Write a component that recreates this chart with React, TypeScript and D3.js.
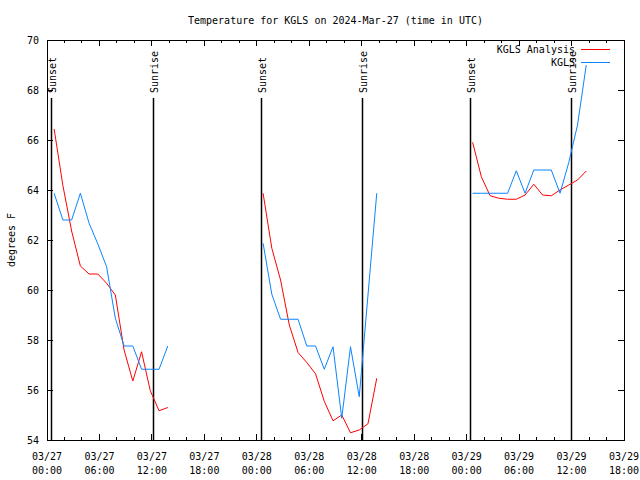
import React from "react";
import * as d3 from "d3";

const W = 640;
const H = 480;
const titleText = "Temperature for KGLS on 2024-Mar-27 (time in UTC)";
const yLabelText = "degrees F";
const seriesNames = ["KGLS Analysis", "KGLS"];
const seriesColors = ["#ff0000", "#0a84ff"];

const xDomain = ["2024-03-27T00:00:00Z", "2024-03-29T18:00:00Z"];
const yDomain = [54, 70];
const yTicks = [54, 56, 58, 60, 62, 64, 66, 68, 70];

// hourly segments, each starting at the given time
const segmentStarts = ["2024-03-27T00:49:00Z", "2024-03-28T00:43:00Z", "2024-03-29T00:41:00Z"];

const analysisDay1 = [66.44, 64.18, 62.36, 60.96, 60.64, 60.64, 60.27, 59.8, 57.6, 56.36, 57.53, 55.97, 55.17, 55.3];
const analysisDay2 = [63.87, 61.67, 60.4, 58.6, 57.5, 57.1, 56.65, 55.55, 54.77, 55.0, 54.29, 54.4, 54.65, 56.47];
const analysisDay3 = [65.91, 64.53, 63.77, 63.67, 63.63, 63.63, 63.8, 64.23, 63.8, 63.77, 64.0, 64.2, 64.4, 64.76];

const obsDay1 = [63.87, 62.8, 62.8, 63.87, 62.67, 61.84, 60.93, 58.87, 57.76, 57.76, 56.83, 56.83, 56.83, 57.76];
const obsDay2 = [61.87, 59.83, 58.83, 58.83, 58.83, 57.76, 57.76, 56.83, 57.73, 54.87, 57.73, 55.73, 59.8, 63.87];
const obsDay3 = [63.87, 63.87, 63.87, 63.87, 63.87, 64.77, 63.87, 64.8, 64.8, 64.8, 63.87, 65.1, 66.6, 69.0];

const sunTimes = [
  "2024-03-27T00:25:00Z",
  "2024-03-27T12:09:00Z",
  "2024-03-28T00:26:00Z",
  "2024-03-28T12:05:00Z",
  "2024-03-29T00:20:00Z",
  "2024-03-29T11:58:00Z",
];
const sunLabels = ["Sunset", "Sunrise", "Sunset", "Sunrise", "Sunset", "Sunrise"];

const L = 47, R = 624, T = 40, B = 440;
const FONT = "'DejaVu Sans Mono', monospace";

function toPoints(start: string, values: number[]) {
  const t0 = new Date(start).getTime();
  return values.map((v, k) => ({ t: new Date(t0 + k * 3600 * 1000), v }));
}

export default function App() {
  const x = d3.scaleUtc().domain(xDomain.map((d) => new Date(d))).range([L, R]);
  const y = d3.scaleLinear().domain(yDomain).range([B, T]);
  const line = d3
    .line<{ t: Date; v: number }>()
    .x((d) => x(d.t))
    .y((d) => y(d.v));

  const analysis = [analysisDay1, analysisDay2, analysisDay3].map((vals, i) => toPoints(segmentStarts[i], vals));
  const obs = [obsDay1, obsDay2, obsDay3].map((vals, i) => toPoints(segmentStarts[i], vals));

  const majorTicks = x.ticks(d3.utcHour.every(6)!);
  const minorTicks = x.ticks(d3.utcHour.every(2)!).filter((d) => d.getUTCHours() % 6 !== 0);
  const fmtDate = d3.utcFormat("%m/%d");
  const fmtTime = d3.utcFormat("%H:%M");

  return (
    <svg
      width={W}
      height={H}
      style={{ position: "absolute", left: 0, top: 0, background: "#fff" }}
      fontFamily={FONT}
      fontSize={10}
    >
      <rect x={0} y={0} width={W} height={H} fill="#fff" />
      <text x={(L + R) / 2} y={20} textAnchor="middle" dominantBaseline="central">
        {titleText}
      </text>
      <text
        transform={`translate(11,${(T + B) / 2}) rotate(-90)`}
        textAnchor="middle"
        dominantBaseline="central"
      >
        {yLabelText}
      </text>

      {/* y ticks */}
      <g shapeRendering="crispEdges" stroke="#000">
        {yTicks.map((v) => (
          <g key={v}>
            <line x1={L} x2={L + 6} y1={y(v)} y2={y(v)} />
            <line x1={R} x2={R - 6} y1={y(v)} y2={y(v)} />
          </g>
        ))}
        {majorTicks.map((d, i) => (
          <g key={"M" + i}>
            <line x1={x(d)} x2={x(d)} y1={B} y2={B - 6} />
            <line x1={x(d)} x2={x(d)} y1={T} y2={T + 6} />
          </g>
        ))}
        {minorTicks.map((d, i) => (
          <g key={"m" + i}>
            <line x1={x(d)} x2={x(d)} y1={B} y2={B - 3} />
            <line x1={x(d)} x2={x(d)} y1={T} y2={T + 3} />
          </g>
        ))}
      </g>
      {yTicks.map((v) => (
        <text key={"yl" + v} x={39} y={y(v)} textAnchor="end" dominantBaseline="central">
          {v}
        </text>
      ))}
      {majorTicks.map((d, i) => (
        <g key={"xl" + i}>
          <text x={x(d)} y={456} textAnchor="middle" dominantBaseline="central">
            {fmtDate(d)}
          </text>
          <text x={x(d)} y={470} textAnchor="middle" dominantBaseline="central">
            {fmtTime(d)}
          </text>
        </g>
      ))}

      {/* sunrise / sunset */}
      {sunTimes.map((s, i) => {
        const xx = Math.round(x(new Date(s))) + 0.5;
        return (
          <g key={"sun" + i}>
            <line x1={xx} x2={xx} y1={B} y2={98} stroke="#000" strokeWidth={1.5} />
            <text
              transform={`translate(${xx + 1},93) rotate(-90)`}
              textAnchor="start"
              dominantBaseline="central"
            >
              {sunLabels[i]}
            </text>
          </g>
        );
      })}

      {/* data */}
      {analysis.map((seg, i) => (
        <path key={"a" + i} d={line(seg) || ""} fill="none" stroke={seriesColors[0]} strokeWidth={1} />
      ))}
      {obs.map((seg, i) => (
        <path key={"o" + i} d={line(seg) || ""} fill="none" stroke={seriesColors[1]} strokeWidth={1} />
      ))}

      {/* legend */}
      {seriesNames.map((n, i) => (
        <g key={"lg" + i}>
          <text x={575} y={49 + i * 13} textAnchor="end" dominantBaseline="central">
            {n}
          </text>
          <line
            x1={581}
            x2={610}
            y1={49.5 + i * 13}
            y2={49.5 + i * 13}
            stroke={seriesColors[i]}
            strokeWidth={1}
          />
        </g>
      ))}

      <rect
        x={L}
        y={T}
        width={R - L}
        height={B - T}
        fill="none"
        stroke="#000"
        strokeWidth={1}
        shapeRendering="crispEdges"
      />
    </svg>
  );
}
